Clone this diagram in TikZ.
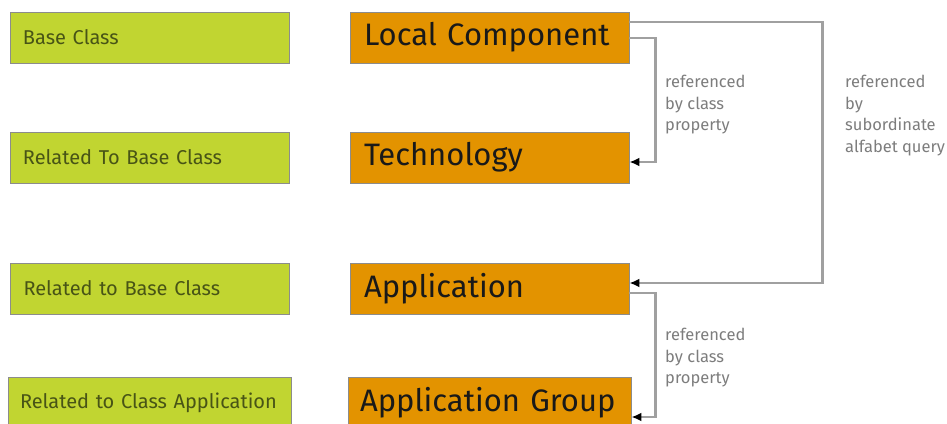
\documentclass[tikz,border=0pt]{standalone}
\usepackage{fontspec}
\setmainfont{Fira Sans}
\usepackage{tikz}
\usetikzlibrary{positioning, arrows.meta}
\definecolor{baseGreen}{RGB}{193, 213, 49}
\definecolor{baseOrange}{RGB}{227, 147, 0}
\definecolor{textOlive}{RGB}{72, 84, 22}
\definecolor{lineGrey}{RGB}{160, 160, 160}
\definecolor{noteGrey}{RGB}{125, 125, 125}

\begin{document}
\begin{tikzpicture}[x=1pt, y=-1pt,
    gbox/.style={rectangle, draw=black!45, line width=0.9pt, fill=baseGreen, text=textOlive,
        minimum height=51pt, minimum width=279pt, inner xsep=13pt, text width=253pt, align=left,
        font=\fontsize{20}{23}\selectfont},
    obox/.style={rectangle, draw=black!45, line width=0.9pt, fill=baseOrange, text=black!90,
        minimum height=51pt, minimum width=279pt, inner xsep=14pt, text width=251pt, align=left,
        font=\fontsize{31}{34}\selectfont},
    link/.style={-{Latex[length=10pt, width=9pt, color=black]}, line width=2.5pt, lineGrey},
    note/.style={anchor=north west, inner sep=0pt, align=left, text=noteGrey,
        font=\fontsize{16.5}{21.5}\selectfont}
]
\fill[white] (0,0) rectangle (947,423);
\useasboundingbox (0,0) rectangle (947,423);

\node[gbox] (base)     at (149.5,37.5)  {Base Class};
\node[gbox] (relbase)  at (149.5,157.5) {Related To Base Class};
\node[gbox] (relbasetwo) at (150,288.5) {Related to Base Class};
\node[gbox, minimum width=283pt, inner xsep=12pt, text width=259pt] (relapp) at (149.5,402.5) {Related to Class Application};

\node[obox] (local)    at (489.5,37.5)  {Local Component};
\node[obox] (tech)     at (489.5,157.5) {Technology};
\node[obox] (app)      at (489.5,288.5) {Application};
\node[obox, minimum width=283pt, inner xsep=12pt, text width=259pt] (appgroup) at (489.5,402.5) {Application Group};

\node[note] (classnote) at (665,75)  {referenced\\by class\\property};
\node[note] (subnote)   at (845,75)  {referenced\\by\\subordinate\\alfabet query};
\node[note] (groupnote) at (665,328) {referenced\\by class\\property};

\draw[link] ([yshift=15.5pt]local.east) -- ++(193,0) |- ([yshift=5.5pt]app.east);
\draw[link] ([yshift=-0.5pt]local.east) -- ++(26,0) |- ([yshift=-4.5pt]tech.east);
\draw[link] ([yshift=-4.5pt]app.east) -- ++(26,0) |- ([yshift=-14.5pt]appgroup.east);
\end{tikzpicture}
\end{document}
